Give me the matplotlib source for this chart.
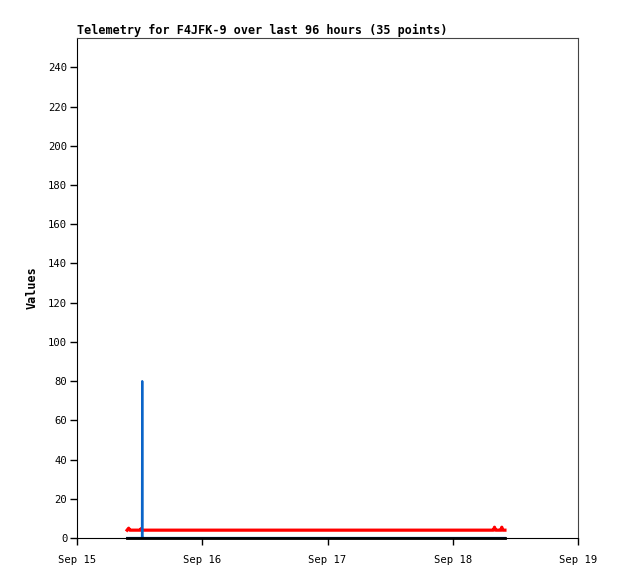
import matplotlib
matplotlib.use("Agg")
import matplotlib.pyplot as plt
import matplotlib.dates as mdates
import numpy as np
from datetime import datetime, timedelta

# Data (hours after Sep 15 00:00)
hours = [9.6, 9.9, 10.1, 10.4, 10.7, 11.0, 11.3, 11.6, 11.9, 12.1, 12.3, 12.45, 12.5, 12.55, 12.8,
         13.1, 78.6, 78.9, 79.2, 79.5, 79.8, 80.0, 80.2, 80.4, 80.6, 80.8, 81.0, 81.2, 81.4,
         81.55, 81.7, 81.8, 81.9, 81.95, 82.0]
red_values = [4, 5, 4, 4, 4, 4, 4, 4, 4, 4, 4.8, 4, 4, 4, 4,
              4, 4, 4, 4, 4, 4, 5.5, 4, 4, 4, 4, 4, 4, 5.5,
              4, 4, 4, 4, 4, 4]
blue_values = [0] * 12 + [80] + [0] * 22
black_values = [0] * 35

x_ticks = ["Sep 15", "Sep 16", "Sep 17", "Sep 18", "Sep 19"]
title = "Telemetry for F4JFK-9 over last 96 hours (35 points)"

base = datetime(2023, 9, 15)
times = [base + timedelta(hours=h) for h in hours]

fig = plt.figure(figsize=(6.18, 5.79), dpi=100)
ax = fig.add_axes([77/618, 1-538/579, (578-77)/618, (538-38)/579])

ax.plot(times, red_values, color="#ff0000", lw=2.3, zorder=2)
ax.plot(times, blue_values, color="#0a64c8", lw=1.6, zorder=3)
ax.plot(times, black_values, color="#000000", lw=2.0, zorder=4, clip_on=False)

ax.set_ylim(0, 255)
ax.set_yticks(range(0, 241, 20))
tick_dates = [base + timedelta(days=i) for i in range(5)]
ax.set_xlim(tick_dates[0], tick_dates[-1])
ax.set_xticks(tick_dates)
ax.set_xticklabels(x_ticks)

mono = "DejaVu Sans Mono"
for lab in ax.get_xticklabels() + ax.get_yticklabels():
    lab.set_fontfamily(mono)
    lab.set_fontsize(7.6)
ax.tick_params(direction="out", length=5, width=1, color="#000000")
ax.tick_params(axis="y", pad=2)
ax.tick_params(axis="x", pad=7)

for s in ["left", "bottom"]:
    ax.spines[s].set_color("#000000")
for s in ["top", "right"]:
    ax.spines[s].set_color("#444444")

ax.set_ylabel("Values", fontfamily=mono, fontweight="bold", fontsize=8.5, labelpad=7)
ax.set_title(title, loc="left", fontfamily=mono, fontweight="bold", fontsize=8.45, pad=3)

fig.savefig("out.png", dpi=100)
